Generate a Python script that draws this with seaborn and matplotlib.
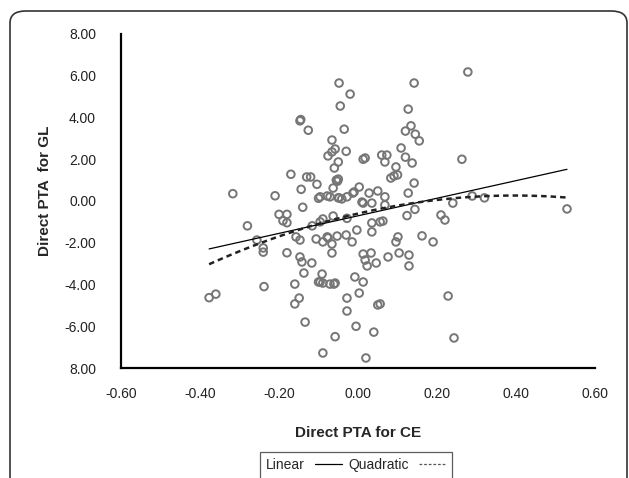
import numpy as np
import pandas as pd
import matplotlib
matplotlib.use("Agg")
import matplotlib.pyplot as plt
from matplotlib.lines import Line2D
from matplotlib.patches import FancyBboxPatch
import seaborn as sns

# ---- data ----
pta_ce = [
    -0.377, -0.360, -0.317, -0.280, -0.256, -0.240, -0.240, -0.238, -0.210, -0.200,
    -0.180, -0.190, -0.180, -0.180, -0.170, -0.157, -0.147, -0.147, -0.142, -0.137,
    -0.160, -0.149, -0.160, -0.134, -0.147, -0.145, -0.126, -0.144, -0.140, -0.130,
    -0.120, -0.104, -0.116, -0.117, -0.106, -0.100, -0.100, -0.096, -0.078, -0.071,
    -0.048, -0.041, -0.028, -0.048, -0.045, -0.020, -0.035, -0.066, -0.058, -0.066,
    -0.030, -0.076, -0.050, -0.060, -0.055, -0.050, -0.052, -0.063, -0.050, 0.013,
    0.018, 0.142, 0.127, 0.134, 0.120, 0.145, 0.155, 0.109, 0.060, 0.073,
    0.068, 0.120, 0.137, 0.096, 0.083, 0.091, 0.100, 0.142, 0.127, 0.003,
    -0.010, -0.013, 0.028, 0.050, 0.068, 0.010, 0.013, 0.035, 0.263, 0.278,
    0.289, 0.320, 0.240, 0.210, 0.220, 0.144, 0.124, 0.529, 0.068, -0.028,
    -0.063, -0.089, -0.096, -0.003, 0.035, 0.056, 0.063, 0.035, -0.030, -0.078,
    -0.076, 0.101, 0.162, 0.190, -0.089, -0.066, -0.015, -0.066, -0.091, -0.096,
    -0.089, -0.071, -0.061, -0.008, 0.013, 0.003, -0.028, -0.028, -0.005, -0.058,
    -0.089, 0.020, 0.040, 0.050, 0.056, 0.013, 0.018, 0.023, 0.033, 0.046,
    0.076, 0.096, 0.104, 0.129, 0.129, 0.228, 0.243, -0.053, -0.058,
]
pta_gl = [
    -4.63, -4.46, 0.35, -1.19, -1.87, -2.25, -2.45, -4.10, 0.25, -0.64,
    -0.64, -0.95, -1.04, -2.48, 1.28, -1.72, -1.87, -2.68, -2.92, -3.45,
    -3.98, -4.65, -4.93, -5.80, 3.84, 3.90, 3.39, 0.56, -0.30, 1.15,
    1.15, 0.80, -1.19, -2.97, -1.82, 0.13, -3.88, 0.20, 0.24, 0.20,
    0.15, 0.10, 0.20, 5.65, 4.55, 5.12, 3.44, 2.92, 2.49, 2.35,
    2.38, 2.16, 1.87, 1.58, 1.00, 1.05, 0.95, 0.62, 0.15, 2.00,
    2.06, 5.65, 4.40, 3.60, 3.35, 3.20, 2.88, 2.54, 2.20, 2.20,
    1.87, 2.10, 1.82, 1.63, 1.10, 1.20, 1.25, 0.86, 0.38, 0.67,
    0.43, 0.38, 0.38, 0.48, 0.20, -0.05, -0.10, -0.10, 2.00, 6.18,
    0.24, 0.15, -0.10, -0.67, -0.91, -0.40, -0.70, -0.38, -0.19, -0.83,
    -0.72, -0.86, -1.00, -1.39, -1.05, -1.00, -0.96, -1.48, -1.63, -1.72,
    -1.77, -1.72, -1.67, -1.96, -1.96, -2.06, -1.96, -2.49, -3.50, -3.88,
    -3.93, -3.98, -3.98, -3.64, -3.88, -4.41, -4.65, -5.27, -6.00, -6.50,
    -7.28, -7.52, -6.28, -4.98, -4.93, -2.54, -2.83, -3.11, -2.49, -2.97,
    -2.68, -1.96, -2.49, -2.59, -3.11, -4.55, -6.56, -1.68, -3.93,
]
x_ticks = [-0.60, -0.40, -0.20, 0.00, 0.20, 0.40, 0.60]
x_tick_labels = ["-0.60", "-0.40", "-0.20", "0.00", "0.20", "0.40", "0.60"]
y_ticks = [8, 6, 4, 2, 0, -2, -4, -6, -8]
y_tick_labels = ["8.00", "6.00", "4.00", "2.00", "0.00", "-2.00", "-4.00", "-6.00", "8.00"]
legend_labels = ["Linear", "Quadratic"]

df = pd.DataFrame({"ce": pta_ce, "gl": pta_gl})

sns.set_style("white")
plt.rcParams["font.family"] = ["Liberation Sans", "DejaVu Sans"]

fig = plt.figure(figsize=(6.29, 4.78), dpi=100)
ax = fig.add_axes([0.1924, 0.2301, 0.7536, 0.6988])

# outer rounded frame
frame = FancyBboxPatch((10 / 629, -0.2), (617 / 629), 1 - 11 / 478 + 0.2,
                       boxstyle="round,pad=0,rounding_size=0.025",
                       transform=fig.transFigure, fill=False,
                       edgecolor="#333333", linewidth=1.2, zorder=0)
fig.patches.append(frame)

sns.scatterplot(data=df, x="ce", y="gl", ax=ax, marker="o", s=30,
                facecolors="none", edgecolor="#767676", linewidth=1.4, zorder=3)
sns.regplot(data=df, x="ce", y="gl", ax=ax, scatter=False, ci=None, order=1,
            truncate=True, line_kws=dict(color="black", linewidth=0.9, zorder=4))
sns.regplot(data=df, x="ce", y="gl", ax=ax, scatter=False, ci=None, order=2,
            truncate=True, line_kws=dict(color="#222222", linewidth=1.8,
                                         dashes=(2.2, 1.6), zorder=4))

ax.set_xlim(-0.6, 0.6)
ax.set_ylim(-8, 8)
ax.set_xticks(x_ticks)
ax.set_xticklabels(x_tick_labels)
ax.set_yticks(y_ticks)
ax.set_yticklabels(y_tick_labels)
ax.tick_params(axis="both", direction="out", length=4, width=1.2, color="black",
               labelsize=10, labelcolor="#222222")
ax.tick_params(axis="y", pad=14)
ax.tick_params(axis="x", pad=9, length=5)
for side in ["top", "right"]:
    ax.spines[side].set_visible(False)
for side in ["left", "bottom"]:
    ax.spines[side].set_color("black")
    ax.spines[side].set_linewidth(1.6)

ax.set_xlabel("Direct PTA for CE", fontsize=11, fontweight="bold", labelpad=18)
ax.set_ylabel("Direct PTA  for GL", fontsize=11, fontweight="bold", labelpad=9)
ax.yaxis.label.set_y((368 - 191) / 334)

handles = [Line2D([0], [0], color="black", linewidth=0.9),
           Line2D([0], [0], color="#555555", linewidth=0.9, dashes=(2.2, 1.5))]
leg = fig.legend(handles, legend_labels, loc="upper center",
                 bbox_to_anchor=(356 / 629, 1 - 452 / 478), ncol=2,
                 markerfirst=False, frameon=True, fancybox=False,
                 edgecolor="#333333", fontsize=10, handlelength=1.95,
                 handletextpad=0.75, columnspacing=0.4, borderpad=0.45,
                 borderaxespad=0)
leg.get_frame().set_linewidth(0.9)

fig.savefig("out.png", dpi=100)
